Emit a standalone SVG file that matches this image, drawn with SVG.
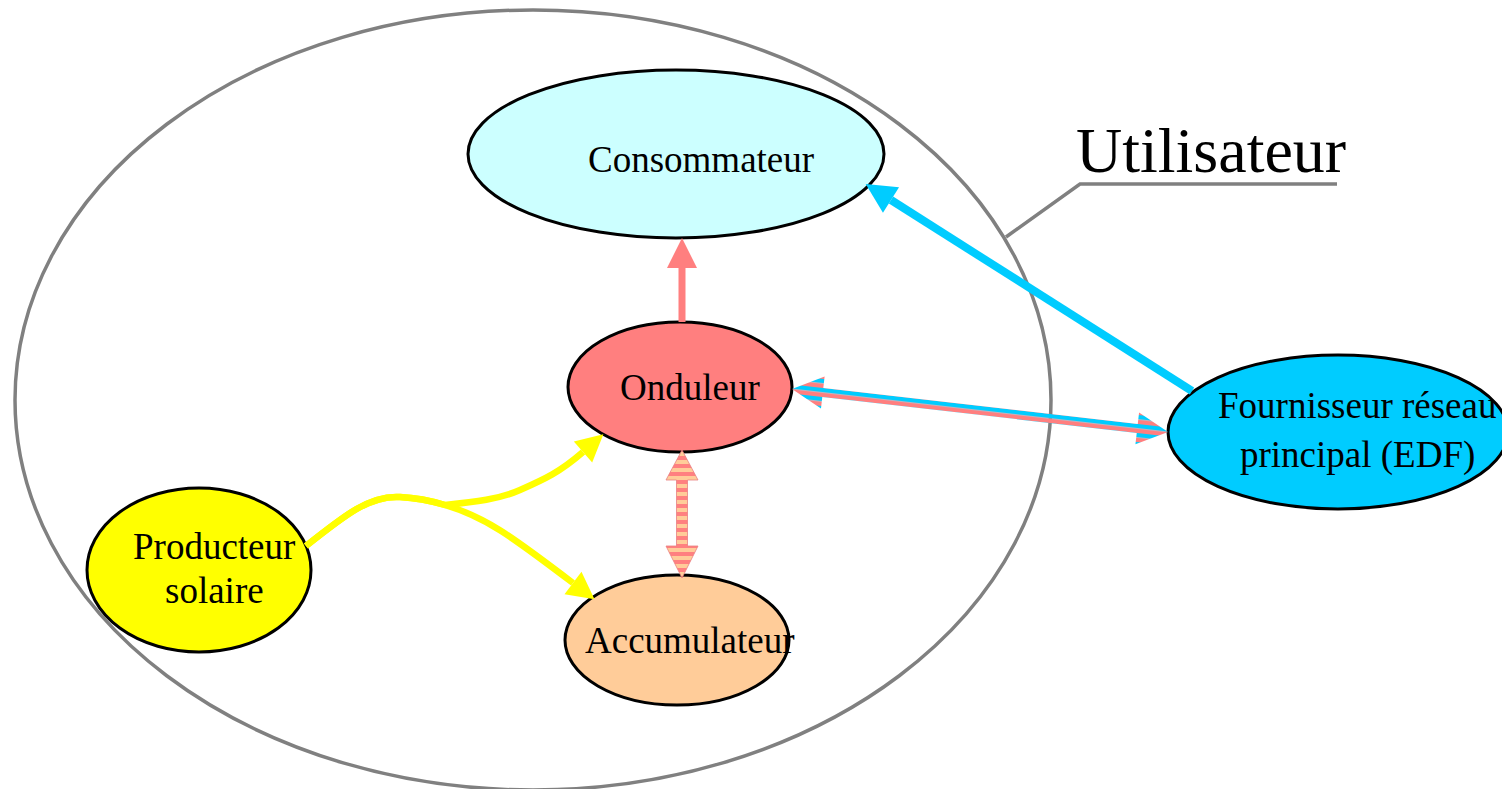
<svg xmlns="http://www.w3.org/2000/svg" width="1502" height="789" viewBox="0 0 1502 789">
  <style>
    .node { stroke: #000; stroke-width: 3; }
    .lbl { font-family: "Liberation Serif", "Times New Roman", serif; font-size: 37px; fill: #000; }
    .title { font-family: "Liberation Serif", "Times New Roman", serif; font-size: 64px; fill: #000; }
    .gray { fill: none; stroke: #808080; stroke-width: 3.5; }
  </style>
  <defs>
    <marker id="headPink" markerUnits="userSpaceOnUse" markerWidth="30" markerHeight="30" refX="0" refY="15" orient="auto" overflow="visible">
      <path d="M0,0 L30,15 L0,30 Z" fill="#FF7F7F"/>
    </marker>
    <marker id="headCyan" markerUnits="userSpaceOnUse" markerWidth="30" markerHeight="30" refX="0" refY="15" orient="auto" overflow="visible">
      <path d="M0,0 L30,15 L0,30 Z" fill="#00CCFF"/>
    </marker>
    <marker id="headYellow" markerUnits="userSpaceOnUse" markerWidth="28" markerHeight="28" refX="0" refY="14" orient="auto" overflow="visible">
      <path d="M0,0 L27,14 L0,28 Z" fill="#FFFF00"/>
    </marker>
    <pattern id="stripeBC" patternUnits="userSpaceOnUse" x="0" y="-4.5" width="10" height="9">
      <rect x="0" y="0" width="10" height="4.5" fill="#00CCFF"/>
      <rect x="0" y="4.5" width="10" height="4.5" fill="#FF7F7F"/>
    </pattern>
    <pattern id="stripePO" patternUnits="userSpaceOnUse" x="0" y="0" width="10" height="8">
      <rect x="0" y="0" width="10" height="4" fill="#FF8080"/>
      <rect x="0" y="4" width="10" height="4" fill="#FFCC99"/>
    </pattern>
  </defs>
  <rect width="1502" height="789" fill="#fff"/>

  <g id="utilisateur">
    <ellipse class="gray" cx="533" cy="400" rx="518" ry="390"/>
    <polyline class="gray" points="1006,237 1080,184 1337,184" stroke-width="4"/>
    <text class="title" x="1076" y="172">Utilisateur</text>
  </g>

  <g id="consommateur">
    <ellipse class="node" cx="676" cy="154" rx="208" ry="84" fill="#CCFFFF"/>
    <text class="lbl" x="588" y="172">Consommateur</text>
  </g>
  <g id="onduleur">
    <ellipse class="node" cx="680" cy="387" rx="112" ry="65" fill="#FF7F7F"/>
    <text class="lbl" x="620" y="400">Onduleur</text>
  </g>
  <g id="accumulateur">
    <ellipse class="node" cx="677" cy="640" rx="112" ry="65" fill="#FFCC99"/>
    <text class="lbl" x="585" y="653">Accumulateur</text>
  </g>
  <g id="producteur">
    <ellipse class="node" cx="199" cy="570" rx="112" ry="82" fill="#FFFF00"/>
    <text class="lbl" x="133" y="559">Producteur</text>
    <text class="lbl" x="165" y="603">solaire</text>
  </g>
  <g id="fournisseur">
    <ellipse class="node" cx="1338" cy="432" rx="170" ry="77" fill="#00CCFF"/>
    <text class="lbl" x="1218" y="418">Fournisseur réseau</text>
    <text class="lbl" x="1240" y="467">principal (EDF)</text>
  </g>

  <g id="connectors">
    <path d="M682,322 L682,268" fill="none" stroke="#FF7F7F" stroke-width="7" marker-end="url(#headPink)"/>
    <path d="M1192,391 L891,200" fill="none" stroke="#00CCFF" stroke-width="8" marker-end="url(#headCyan)"/>
    <path d="M306,546 C345,515 370,495 400,497 C420,498 435,502 445,505 C475,502 500,499 520,490 C545,479 560,472 583,452" fill="none" stroke="#FFFF00" stroke-width="6.5" marker-end="url(#headYellow)"/>
    <path d="M306,546 C345,515 370,495 400,497 C420,498 435,502 445,505 C485,517 510,535 573,583" fill="none" stroke="#FFFF00" stroke-width="6.5" marker-end="url(#headYellow)"/>
    <polygon points="682,450 698,480 687.5,480 687.5,546 698,546 682,578 666,546 676.5,546 676.5,480 666,480" fill="url(#stripePO)" stroke="#E88080" stroke-width="0.8"/>
    <g transform="translate(792,389) rotate(6.52)">
      <polygon points="0,0 31,-16 31,-4.5 347.5,-4.5 347.5,-16 378.5,0 347.5,16 347.5,4.5 31,4.5 31,16" fill="url(#stripeBC)"/>
    </g>
  </g>
</svg>
